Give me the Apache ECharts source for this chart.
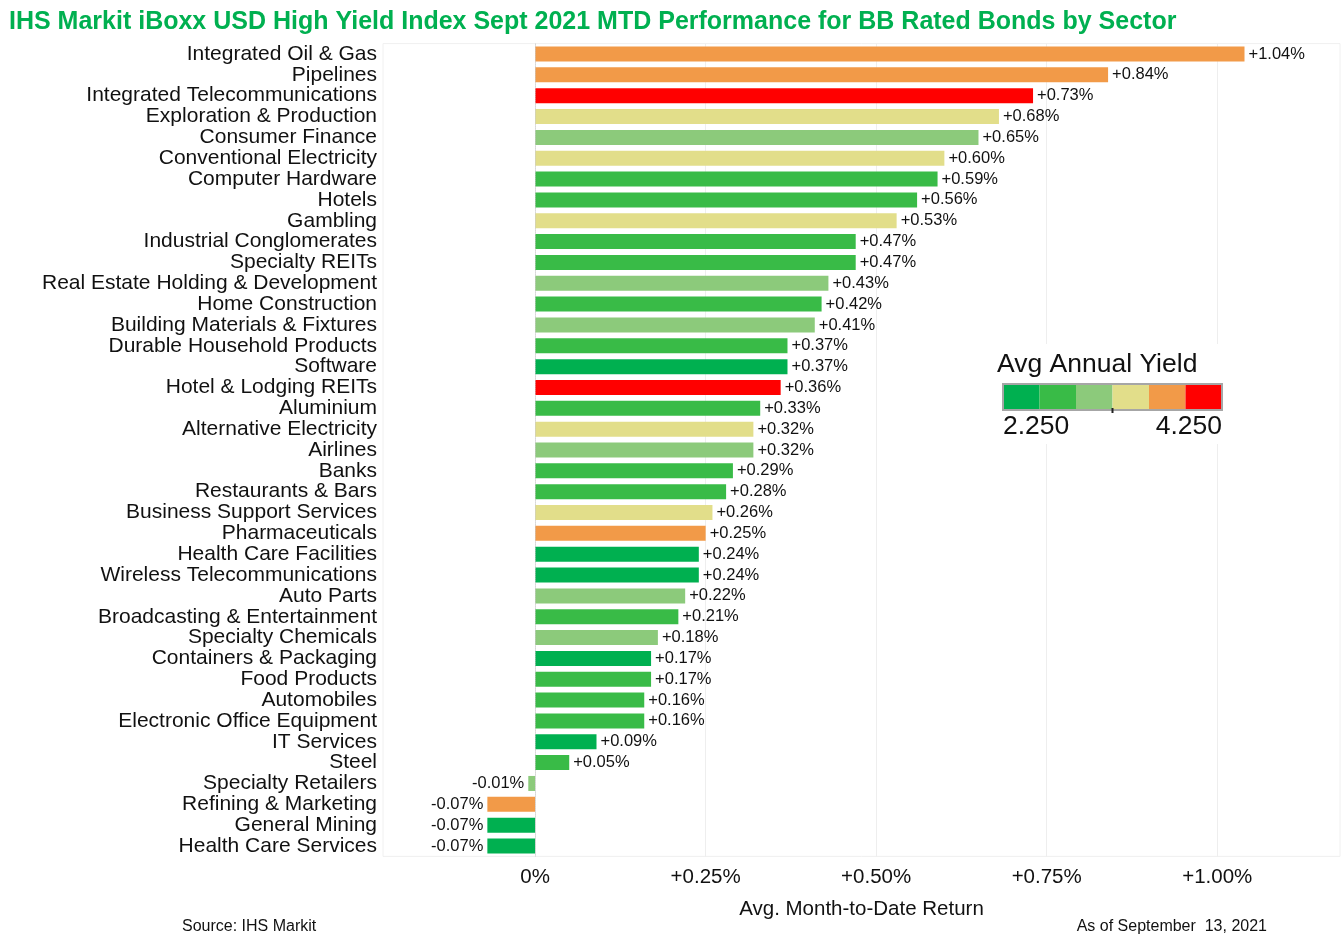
<!DOCTYPE html>
<html>
<head>
<meta charset="utf-8">
<script src="https://cdn.jsdelivr.net/npm/echarts@6/dist/echarts.min.js"></script>
<style>
html,body{margin:0;padding:0;background:#fff;}
#chart{width:1342px;height:947px;}
</style>
</head>
<body>
<div id="chart"></div>
<script>
const categories = [
  "Integrated Oil & Gas","Pipelines","Integrated Telecommunications","Exploration & Production",
  "Consumer Finance","Conventional Electricity","Computer Hardware","Hotels","Gambling",
  "Industrial Conglomerates","Specialty REITs","Real Estate Holding & Development","Home Construction",
  "Building Materials & Fixtures","Durable Household Products","Software","Hotel & Lodging REITs",
  "Aluminium","Alternative Electricity","Airlines","Banks","Restaurants & Bars","Business Support Services",
  "Pharmaceuticals","Health Care Facilities","Wireless Telecommunications","Auto Parts",
  "Broadcasting & Entertainment","Specialty Chemicals","Containers & Packaging","Food Products",
  "Automobiles","Electronic Office Equipment","IT Services","Steel","Specialty Retailers",
  "Refining & Marketing","General Mining","Health Care Services"
];
const mtdReturn = [
  1.04,0.84,0.73,0.68,0.65,0.60,0.59,0.56,0.53,0.47,0.47,0.43,0.42,0.41,0.37,0.37,0.36,
  0.33,0.32,0.32,0.29,0.28,0.26,0.25,0.24,0.24,0.22,0.21,0.18,0.17,0.17,0.16,0.16,0.09,0.05,
  -0.01,-0.07,-0.07,-0.07
];
// yield band index: 0 = lowest (2.250) ... 5 = highest (4.250)
const yieldBand = [
  4,4,5,3,2,3,1,1,3,1,1,2,1,2,1,0,5,
  1,3,2,1,1,3,4,0,0,2,1,2,0,1,1,1,0,1,
  2,4,0,0
];
const yieldColors = ["#00b050","#39bb47","#8cca7b","#e2de8a","#f29a48","#ff0000"];
const yieldRangeLabels = ["2.250","4.250"];
const xTickValues = [0,0.25,0.5,0.75,1.0];

const FONT = "Liberation Sans";
const fmtPct = v => (v > 0 ? "+" : "") + v.toFixed(2) + "%";

const chart = echarts.init(document.getElementById("chart"));

const legendX = 1003, legendY = 384, cellW = 36.5, cellH = 26;
const legendGraphics = [];
legendGraphics.push({
  type: "rect", z: 100,
  shape: { x: legendX - 8, y: legendY - 40, width: cellW * 6 + 16, height: 100 },
  style: { fill: "#ffffff" }
});
yieldColors.forEach((c, i) => {
  legendGraphics.push({
    type: "rect", z: 101,
    shape: { x: legendX + i * cellW, y: legendY, width: cellW, height: cellH },
    style: { fill: c }
  });
});
legendGraphics.push({
  type: "rect", z: 102,
  shape: { x: legendX, y: legendY, width: cellW * yieldColors.length, height: cellH },
  style: { fill: "none", stroke: "#a6a6a6", lineWidth: 2 }
});
legendGraphics.push({
  type: "rect", z: 102,
  shape: { x: legendX + cellW * 3 - 1, y: legendY + cellH - 2, width: 2, height: 5 },
  style: { fill: "#222" }
});
legendGraphics.push({
  type: "text", left: 997, top: 351, z: 102,
  style: { text: "Avg Annual Yield", fontFamily: FONT, fontSize: 26.5, fill: "#111" }
});
legendGraphics.push({
  type: "text", left: 1003, top: 413, z: 102,
  style: { text: yieldRangeLabels[0], fontFamily: FONT, fontSize: 26.5, fill: "#111" }
});
legendGraphics.push({
  type: "text", right: 1342 - (legendX + cellW * yieldColors.length), top: 413, z: 102,
  style: { text: yieldRangeLabels[1], fontFamily: FONT, fontSize: 26.5, fill: "#111", align: "right" }
});
legendGraphics.push({
  type: "text", left: 182, top: 919,
  style: { text: "Source: IHS Markit", fontFamily: FONT, fontSize: 16, fill: "#111" }
});
legendGraphics.push({
  type: "text", right: 75, top: 919,
  style: { text: "As of September  13, 2021", fontFamily: FONT, fontSize: 16, fill: "#111" }
});

chart.setOption({
  animation: false,
  backgroundColor: "#ffffff",
  title: {
    text: "IHS Markit iBoxx USD High Yield Index Sept 2021 MTD Performance for BB Rated Bonds by Sector",
    left: 4, top: 5,
    textStyle: { fontFamily: FONT, fontSize: 25, fontWeight: "bold", color: "#00b050" }
  },
  grid: {
    left: 383, right: 2, top: 43.6, bottom: 90.6,
    show: true, borderColor: "#f0f0f0", borderWidth: 1, containLabel: false
  },
  xAxis: {
    type: "value",
    min: -0.223, max: 1.18,
    name: "Avg. Month-to-Date Return",
    nameLocation: "middle",
    nameGap: 42,
    nameTextStyle: { fontFamily: FONT, fontSize: 20.5, color: "#111" },
    axisLine: { show: false },
    axisTick: { show: false, customValues: xTickValues },
    axisLabel: {
      customValues: xTickValues,
      margin: 10,
      fontFamily: FONT, fontSize: 20.5, color: "#111",
      formatter: v => v === 0 ? "0%" : fmtPct(v)
    },
    splitLine: { show: true, lineStyle: { color: "#eeeeee", width: 1 } }
  },
  yAxis: {
    type: "category",
    data: categories,
    inverse: true,
    axisLine: { show: false, onZero: false },
    axisTick: { show: false },
    axisLabel: {
      interval: 0,
      margin: 6,
      fontFamily: FONT, fontSize: 21, color: "#111"
    }
  },
  series: [{
    type: "bar",
    barCategoryGap: "28%",
    data: mtdReturn.map((v, i) => ({
      value: v,
      itemStyle: { color: yieldColors[yieldBand[i]] },
      label: { position: v < 0 ? "left" : "right" }
    })),
    label: {
      show: true,
      distance: 4,
      fontFamily: FONT, fontSize: 16.5, color: "#111",
      formatter: p => fmtPct(p.value)
    },
    markLine: {
      silent: true,
      symbol: "none",
      label: { show: false },
      lineStyle: { type: "dotted", color: "#c8c8c8", width: 1 },
      data: [{ xAxis: 0 }]
    }
  }],
  graphic: legendGraphics
});
</script>
</body>
</html>
